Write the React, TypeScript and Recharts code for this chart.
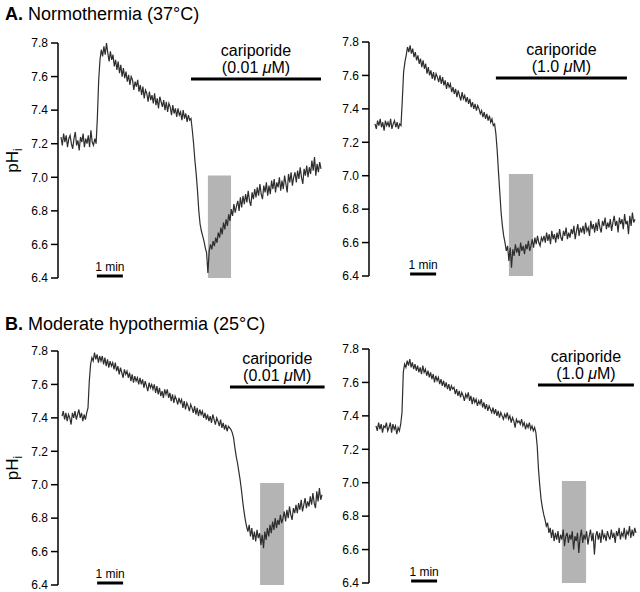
import { LineChart, Line, XAxis, YAxis, ReferenceArea, ReferenceLine } from 'recharts'

// ─── data ───────────────────────────────────────────────────────────────────
// pHi traces, one sample every 0.05 min, 10 min per trace
const STEP_MIN = 0.05
const PH_TICKS = [6.4, 6.6, 6.8, 7.0, 7.2, 7.4, 7.6, 7.8]

// A. normothermia, cariporide 0.01 µM
const normoLow = [
  7.24, 7.19, 7.26, 7.21, 7.25, 7.18, 7.23, 7.25, 7.20, 7.17,
  7.23, 7.27, 7.19, 7.22, 7.16, 7.24, 7.21, 7.26, 7.18, 7.23,
  7.20, 7.25, 7.18, 7.28, 7.21, 7.19, 7.23, 7.20, 7.36, 7.58,
  7.70, 7.76, 7.72, 7.78, 7.73, 7.80, 7.74, 7.69, 7.75, 7.70,
  7.73, 7.66, 7.70, 7.64, 7.69, 7.62, 7.67, 7.60, 7.65, 7.59,
  7.63, 7.57, 7.61, 7.55, 7.60, 7.58, 7.52, 7.57, 7.54, 7.58,
  7.51, 7.55, 7.49, 7.54, 7.47, 7.52, 7.50, 7.45, 7.51, 7.46,
  7.49, 7.44, 7.50, 7.43, 7.47, 7.41, 7.48, 7.45, 7.42, 7.46,
  7.40, 7.45, 7.39, 7.44, 7.42, 7.37, 7.43, 7.38, 7.41, 7.36,
  7.41, 7.37, 7.39, 7.34, 7.40, 7.35, 7.38, 7.33, 7.37, 7.34,
  7.35, 7.28, 7.20, 7.10, 7.02, 6.92, 6.80, 6.72, 6.68, 6.65,
  6.62, 6.58, 6.55, 6.43, 6.56, 6.60, 6.57, 6.62, 6.59, 6.64,
  6.61, 6.67, 6.64, 6.70, 6.66, 6.73, 6.69, 6.75, 6.71, 6.78,
  6.74, 6.81, 6.77, 6.84, 6.79, 6.83, 6.86, 6.80, 6.88, 6.82,
  6.89, 6.84, 6.90, 6.85, 6.92, 6.86, 6.83, 6.91, 6.87, 6.93,
  6.88, 6.94, 6.89, 6.96, 6.90, 6.87, 6.95, 6.91, 6.97, 6.89,
  6.95, 6.90, 6.98, 6.93, 6.99, 6.91, 6.97, 6.94, 7.00, 6.92,
  6.98, 6.93, 7.01, 6.96, 6.91, 7.02, 6.97, 7.03, 6.95, 7.00,
  7.03, 6.97, 7.04, 6.99, 7.06, 7.00, 6.96, 7.05, 7.01, 7.07,
  7.00, 7.06, 7.02, 7.10, 7.04, 7.12, 7.01, 7.08, 7.03, 7.09,
  7.05,
]

// A. normothermia, cariporide 1.0 µM
const normoHigh = [
  7.31, 7.28, 7.33, 7.30, 7.34, 7.29, 7.32, 7.27, 7.33, 7.30,
  7.32, 7.29, 7.34, 7.28, 7.31, 7.33, 7.29, 7.32, 7.28, 7.31,
  7.30, 7.45, 7.62, 7.68, 7.72, 7.77, 7.74, 7.78, 7.73, 7.76,
  7.71, 7.74, 7.69, 7.72, 7.67, 7.70, 7.65, 7.69, 7.64, 7.67,
  7.61, 7.65, 7.60, 7.63, 7.58, 7.62, 7.57, 7.61, 7.59, 7.56,
  7.60, 7.55, 7.59, 7.54, 7.57, 7.52, 7.56, 7.53, 7.55, 7.50,
  7.53, 7.49, 7.52, 7.47, 7.51, 7.48, 7.45, 7.50, 7.46, 7.48,
  7.44, 7.47, 7.43, 7.46, 7.41, 7.44, 7.40, 7.43, 7.39, 7.42,
  7.40, 7.37, 7.39, 7.35, 7.38, 7.34, 7.37, 7.33, 7.36, 7.32,
  7.34, 7.30, 7.31, 7.25, 7.15, 7.02, 6.90, 6.78, 6.70, 6.64,
  6.60, 6.55, 6.58, 6.49, 6.57, 6.45, 6.56, 6.52, 6.59, 6.54,
  6.57, 6.52, 6.60, 6.55, 6.58, 6.53, 6.59, 6.56, 6.61, 6.55,
  6.58, 6.62, 6.57, 6.63, 6.59, 6.64, 6.60, 6.58, 6.63, 6.61,
  6.64, 6.60, 6.66, 6.61, 6.65, 6.59, 6.67, 6.62, 6.65, 6.60,
  6.66, 6.62, 6.68, 6.63, 6.61, 6.67, 6.64, 6.69, 6.62, 6.66,
  6.63, 6.68, 6.65, 6.70, 6.62, 6.67, 6.71, 6.64, 6.69, 6.66,
  6.70, 6.65, 6.72, 6.67, 6.69, 6.64, 6.73, 6.68, 6.71, 6.66,
  6.72, 6.67, 6.74, 6.69, 6.66, 6.73, 6.70, 6.75, 6.68, 6.72,
  6.69, 6.74, 6.67, 6.72, 6.76, 6.70, 6.73, 6.66, 6.75, 6.71,
  6.74, 6.68, 6.77, 6.71, 6.73, 6.65, 6.76, 6.70, 6.78, 6.72,
  6.74,
]

// B. moderate hypothermia, cariporide 0.01 µM
const hypoLow = [
  7.41, 7.44, 7.39, 7.43, 7.38, 7.42, 7.40, 7.36, 7.43, 7.40,
  7.44, 7.39, 7.42, 7.45, 7.40, 7.43, 7.38, 7.42, 7.39, 7.43,
  7.46, 7.62, 7.72, 7.76, 7.74, 7.79, 7.75, 7.78, 7.73, 7.77,
  7.74, 7.77, 7.72, 7.76, 7.71, 7.75, 7.70, 7.74, 7.71, 7.73,
  7.69, 7.73, 7.68, 7.71, 7.66, 7.70, 7.67, 7.64, 7.69, 7.66,
  7.68, 7.64, 7.67, 7.62, 7.66, 7.61, 7.65, 7.62, 7.64, 7.60,
  7.64, 7.60, 7.63, 7.58, 7.62, 7.59, 7.56, 7.61, 7.58, 7.60,
  7.57, 7.60, 7.55, 7.59, 7.54, 7.58, 7.53, 7.56, 7.52, 7.57,
  7.54, 7.57, 7.52, 7.55, 7.50, 7.54, 7.49, 7.53, 7.51, 7.48,
  7.52, 7.49, 7.51, 7.46, 7.50, 7.45, 7.49, 7.47, 7.44, 7.48,
  7.46, 7.43, 7.47, 7.42, 7.46, 7.41, 7.45, 7.42, 7.44, 7.40,
  7.43, 7.39, 7.42, 7.38, 7.41, 7.37, 7.42, 7.39, 7.36, 7.40,
  7.38, 7.35, 7.39, 7.34, 7.37, 7.33, 7.36, 7.32, 7.35, 7.34,
  7.33, 7.31, 7.28, 7.22, 7.17, 7.13, 7.08, 7.03, 6.97, 6.90,
  6.84, 6.79, 6.75, 6.72, 6.76, 6.69, 6.74, 6.67, 6.72, 6.66,
  6.73, 6.68, 6.71, 6.64, 6.70, 6.62, 6.72, 6.67, 6.74, 6.69,
  6.76, 6.71, 6.78, 6.73, 6.80, 6.74, 6.79, 6.76, 6.82, 6.77,
  6.80, 6.84, 6.78, 6.85, 6.80, 6.87, 6.82, 6.79, 6.86, 6.83,
  6.88, 6.83, 6.89, 6.85, 6.91, 6.84, 6.88, 6.92, 6.86, 6.90,
  6.87, 6.93, 6.88, 6.95, 6.89, 6.86, 6.96, 6.90, 6.98, 6.91,
  6.94,
]

// B. moderate hypothermia, cariporide 1.0 µM
const hypoHigh = [
  7.34, 7.31, 7.36, 7.32, 7.35, 7.30, 7.34, 7.33, 7.36, 7.31,
  7.33, 7.36, 7.30, 7.35, 7.32, 7.34, 7.29, 7.33, 7.31, 7.35,
  7.42, 7.66, 7.71, 7.69, 7.73, 7.70, 7.74, 7.69, 7.72, 7.68,
  7.71, 7.67, 7.70, 7.66, 7.69, 7.65, 7.70, 7.66, 7.68, 7.64,
  7.67, 7.63, 7.66, 7.62, 7.65, 7.60, 7.64, 7.61, 7.63, 7.59,
  7.62, 7.58, 7.61, 7.57, 7.60, 7.56, 7.59, 7.55, 7.58, 7.56,
  7.57, 7.53, 7.56, 7.52, 7.55, 7.51, 7.54, 7.52, 7.49, 7.53,
  7.51, 7.54, 7.49, 7.52, 7.47, 7.51, 7.48, 7.50, 7.46, 7.49,
  7.47, 7.50, 7.45, 7.48, 7.44, 7.47, 7.43, 7.46, 7.44, 7.42,
  7.45, 7.41, 7.44, 7.40, 7.43, 7.39, 7.42, 7.40, 7.38, 7.41,
  7.39, 7.42, 7.38, 7.40, 7.36, 7.39, 7.37, 7.33, 7.38, 7.36,
  7.37, 7.35, 7.38, 7.34, 7.36, 7.32, 7.35, 7.33, 7.36, 7.32,
  7.34, 7.31, 7.33, 7.30, 7.22, 7.08, 6.98, 6.90, 6.85, 6.81,
  6.78, 6.74, 6.76, 6.70, 6.73, 6.67, 6.72, 6.65, 6.70, 6.66,
  6.71, 6.64, 6.69, 6.66, 6.72, 6.62, 6.68, 6.70, 6.64, 6.69,
  6.66, 6.71, 6.60, 6.68, 6.65, 6.70, 6.58, 6.67, 6.72, 6.64,
  6.69, 6.66, 6.71, 6.63, 6.68, 6.72, 6.65, 6.70, 6.57, 6.68,
  6.71, 6.66, 6.70, 6.64, 6.72, 6.67, 6.69, 6.65, 6.71, 6.68,
  6.66, 6.72, 6.67, 6.70, 6.64, 6.71, 6.68, 6.73, 6.66, 6.70,
  6.68, 6.73, 6.66, 6.71, 6.69, 6.74, 6.67, 6.72, 6.68, 6.73,
  6.70,
]

// ─── styling ────────────────────────────────────────────────────────────────
const FONT = '"Liberation Sans", Arial, Helvetica, sans-serif'
const PX_PER_MIN = 26
const DRUG_BAR_PH = 7.585
const SCALE_BAR_PH = 6.412

interface PanelProps {
  left: number
  top: number
  width: number
  height: number
  axisX: number // x of the y-axis line inside the panel
  yTop: number // pixel row of 7.8
  yBottom: number // pixel row of 6.4
  traceX: number // x where the trace starts
  values: number[]
  box: [number, number] // grey window (min)
  drug: [number, number] // cariporide bar (min)
  dose: string
  scale: [number, number] // 1 min scale bar (min)
  showLabel?: boolean
}

function Panel(p: PanelProps) {
  const data = p.values.map((v, i) => ({ t: Math.round(i * STEP_MIN * 100) / 100, ph: v }))
  const x0 = -(p.traceX - p.axisX) / PX_PER_MIN
  const x1 = (p.width - p.traceX) / PX_PER_MIN
  const midY = (p.yTop + p.yBottom) / 2

  return (
    <div style={{ position: 'absolute', left: p.left, top: p.top }}>
      <LineChart
        width={p.width}
        height={p.height}
        data={data}
        margin={{ top: p.yTop, bottom: p.height - p.yBottom, left: 0, right: 0 }}
      >
        <XAxis dataKey="t" type="number" domain={[x0, x1]} hide allowDataOverflow />
        <YAxis
          type="number"
          domain={[6.4, 7.8]}
          ticks={PH_TICKS}
          interval={0}
          width={p.axisX}
          allowDataOverflow
          tickFormatter={(v: number) => v.toFixed(1)}
          tick={{ fill: '#000', fontSize: 12, fontFamily: FONT }}
          tickLine={{ stroke: '#000', strokeWidth: 1.5 }}
          axisLine={{ stroke: '#000', strokeWidth: 1.5 }}
          tickSize={7}
          tickMargin={3}
          label={
            p.showLabel
              ? {
                  content: () => (
                    <text
                      x={18}
                      y={midY}
                      transform={`rotate(-90, 18, ${midY})`}
                      textAnchor="middle"
                      fontFamily={FONT}
                      fontSize={17}
                      fill="#000"
                    >
                      pH
                      <tspan dy={4} fontSize={12}>i</tspan>
                    </text>
                  ),
                }
              : undefined
          }
        />
        <ReferenceArea
          x1={p.box[0]}
          x2={p.box[1]}
          y1={6.4}
          y2={7.01}
          fill="#b4b4b4"
          fillOpacity={1}
          stroke="none"
        />
        <Line
          type="linear"
          dataKey="ph"
          stroke="#2e2e2e"
          strokeWidth={1.2}
          dot={false}
          isAnimationActive={false}
        />
        <ReferenceLine
          segment={[
            { x: p.drug[0], y: DRUG_BAR_PH },
            { x: p.drug[1], y: DRUG_BAR_PH },
          ]}
          stroke="#000"
          strokeWidth={3}
          ifOverflow="visible"
          label={{
            content: (lp: any) => {
              const vb = lp.viewBox || {}
              const cx = vb.x + vb.width / 2
              const y = vb.y
              return (
                <g fontFamily={FONT} fontSize={16} fill="#000">
                  <text x={cx} y={y - 23} textAnchor="middle">cariporide</text>
                  <text x={cx} y={y - 6} textAnchor="middle">
                    ({p.dose} <tspan fontStyle="italic">μ</tspan>M)
                  </text>
                </g>
              )
            },
          }}
        />
        <ReferenceLine
          segment={[
            { x: p.scale[0], y: SCALE_BAR_PH },
            { x: p.scale[1], y: SCALE_BAR_PH },
          ]}
          stroke="#000"
          strokeWidth={3}
          ifOverflow="visible"
          label={{
            content: (lp: any) => {
              const vb = lp.viewBox || {}
              return (
                <text
                  x={vb.x + vb.width / 2}
                  y={vb.y - 5}
                  textAnchor="middle"
                  fontFamily={FONT}
                  fontSize={12}
                  fill="#000"
                >
                  1 min
                </text>
              )
            },
          }}
        />
      </LineChart>
    </div>
  )
}

const titleStyle: React.CSSProperties = {
  position: 'absolute',
  left: 5,
  fontFamily: FONT,
  fontSize: 18,
  lineHeight: '18px',
  color: '#000',
  whiteSpace: 'nowrap',
}

export default function App() {
  return (
    <div style={{ position: 'absolute', left: 0, top: 0, width: 640, height: 592, background: '#fff' }}>
      <Panel
        left={0} top={0} width={330} height={290}
        axisX={58} yTop={43} yBottom={278} traceX={61}
        values={normoLow} box={[5.65, 6.54]} drug={[5.0, 10.0]} dose="0.01" scale={[1.38, 2.38]}
        showLabel
      />
      <Panel
        left={310} top={0} width={330} height={290}
        axisX={59} yTop={42} yBottom={276} traceX={65}
        values={normoHigh} box={[5.15, 6.08]} drug={[4.65, 9.69]} dose="1.0" scale={[1.35, 2.35]}
      />
      <Panel
        left={0} top={290} width={330} height={302}
        axisX={58} yTop={61} yBottom={295} traceX={62}
        values={hypoLow} box={[7.62, 8.54]} drug={[6.46, 10.1]} dose="0.01" scale={[1.35, 2.35]}
        showLabel
      />
      <Panel
        left={310} top={290} width={330} height={302}
        axisX={59} yTop={59} yBottom={293} traceX={66}
        values={hypoHigh} box={[7.15, 8.08]} drug={[6.23, 9.92]} dose="1.0" scale={[1.35, 2.35]}
      />
      <div style={{ ...titleStyle, top: 5 }}>
        <b>A.</b> Normothermia (37°C)
      </div>
      <div style={{ ...titleStyle, top: 315 }}>
        <b>B.</b> Moderate hypothermia (25°C)
      </div>
    </div>
  )
}
